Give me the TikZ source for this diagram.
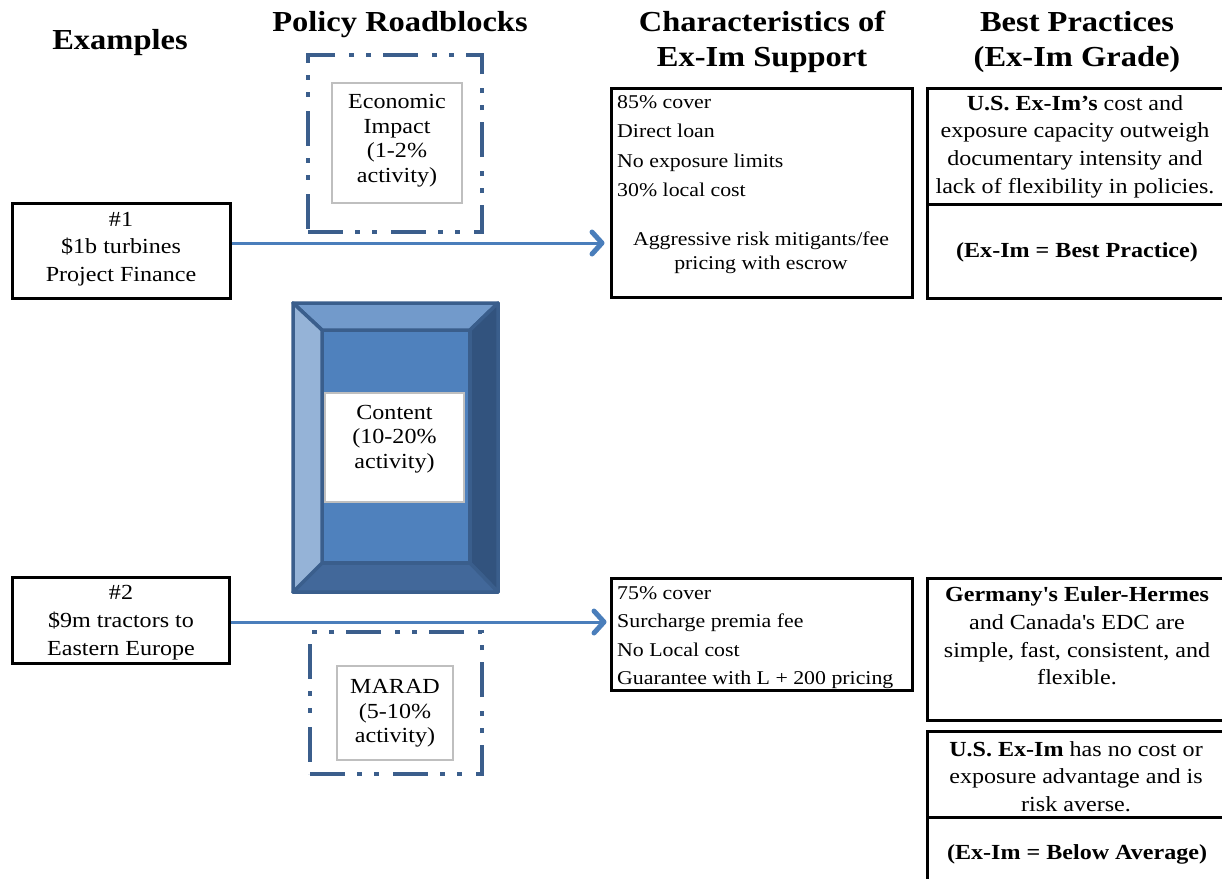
\documentclass[tikz,border=0pt]{standalone}
\usepackage{fontspec}
\setmainfont{Liberation Serif}[FakeStretch=1.12]
\usetikzlibrary{arrows.meta}
\definecolor{arrowblue}{RGB}{74,126,187}
\definecolor{frameblue}{RGB}{59,94,140}
\definecolor{bevtop}{RGB}{114,154,203}
\definecolor{bevleft}{RGB}{149,179,215}
\definecolor{bevright}{RGB}{50,83,126}
\definecolor{bevbottom}{RGB}{66,104,154}
\definecolor{bevmid}{RGB}{79,129,189}
\definecolor{bevline}{RGB}{58,94,140}
\definecolor{innergray}{RGB}{191,191,191}
\begin{document}
\begin{tikzpicture}[x=1pt,y=-1pt,
 title/.style={font=\fontsize{29}{35}\selectfont\bfseries, align=center, inner sep=0},
 body/.style={font=\fontsize{21.5}{27.7}\selectfont, align=center, inner sep=0},
 tight/.style={font=\fontsize{21.5}{24.5}\selectfont, align=center, inner sep=0},
 listtxt/.style={font=\fontsize{19.5}{29.3}\selectfont, align=left, inner sep=0, anchor=west},
 blackbox/.style={draw=black, line width=3pt, inner sep=0},
 dashframe/.style={draw=frameblue, line width=4.5pt, dash pattern=on 35pt off 12pt on 5pt off 12pt on 5pt off 14pt, inner sep=0},
 graybox/.style={draw=innergray, line width=1.5pt, fill=white, inner sep=0},
 arr/.style={draw=arrowblue, line width=3pt, -{Straight Barb[length=10pt,width=22pt,line width=5pt,round]}},
 bevel/.style={draw=bevline, line width=3.5pt, line join=round},
]
\useasboundingbox (0,0) rectangle (1222,878);

% titles
\node[title] (h1) at (120,43) {Examples};
\node[title] (h2) at (400,25) {Policy Roadblocks};
\node[title] (h3) at (762,42) {Characteristics of\\Ex-Im Support};
\node[title] (h4) at (1077,42) {Best Practices\\(Ex-Im Grade)};

% examples
\node[blackbox, minimum width=218pt, minimum height=95pt] (ex1) at (121,250.5) {};
\node[body] (ex1t) at (121,249) {\#1\\\$1b turbines\\Project Finance};
\node[blackbox, minimum width=217pt, minimum height=86pt] (ex2) at (120.5,620) {};
\node[body] (ex2t) at (121,622.5) {\#2\\\$9m tractors to\\Eastern Europe};

% policy roadblocks
\node[dashframe, minimum width=174pt, minimum height=177pt] (econf) at (395,143.5) {};
\node[graybox, minimum width=130pt, minimum height=120pt] (econ) at (397,143) {};
\node[tight] (econt) at (397,140.5) {Economic\\Impact\\(1-2\%\\activity)};

\node[dashframe, minimum width=172pt, minimum height=142pt] (maradf) at (396,703) {};
\node[graybox, minimum width=116pt, minimum height=94pt] (marad) at (395,713) {};
\node[tight] (maradt) at (395,713.5) {MARAD\\(5-10\%\\activity)};

% bevel content
\filldraw[bevel, fill=bevmid] (322,330) rectangle (470,563);
\filldraw[bevel, fill=bevtop] (293,303) -- (498,303) -- (470,330) -- (322,330) -- cycle;
\filldraw[bevel, fill=bevright] (498,303) -- (498,592) -- (470,563) -- (470,330) -- cycle;
\filldraw[bevel, fill=bevbottom] (498,592) -- (293,592) -- (322,563) -- (470,563) -- cycle;
\filldraw[bevel, fill=bevleft] (293,592) -- (293,303) -- (322,330) -- (322,563) -- cycle;
\node[graybox, minimum width=139pt, minimum height=109pt] (content) at (394.5,447.5) {};
\node[tight] (contentt) at (394.5,439) {Content\\(10-20\%\\activity)};

% characteristics
\node[blackbox, minimum width=301pt, minimum height=209pt] (char1) at (761.5,192.5) {};
\node[listtxt] (char1t) at (617,146) {85\% cover\\Direct loan\\No exposure limits\\30\% local cost};
\node[font=\fontsize{19.5}{24}\selectfont, align=center, inner sep=0] (char1u) at (761,252.5) {Aggressive risk mitigants/fee\\pricing with escrow};
\node[blackbox, minimum width=301pt, minimum height=112pt] (char2) at (761.5,634) {};
\node[listtxt, font=\fontsize{19.5}{28.3}\selectfont] (char2t) at (617,637.5) {75\% cover\\Surcharge premia fee\\No Local cost\\Guarantee with L + 200 pricing};

% best practices
\node[blackbox, minimum width=298pt, minimum height=116pt] (bp1a) at (1076,146) {};
\node[body] (bp1at) at (1075,146.5) {\textbf{U.S. Ex-Im’s} cost and\\exposure capacity outweigh\\documentary intensity and\\lack of flexibility in policies.};
\node[blackbox, minimum width=298pt, minimum height=94pt] (bp1b) at (1076,251) {};
\node[body, font=\fontsize{21.5}{27.7}\selectfont\bfseries] (bp1bt) at (1077,252) {(Ex-Im = Best Practice)};

\node[blackbox, minimum width=298pt, minimum height=142pt] (bp2) at (1076,649) {};
\node[body] (bp2t) at (1077,636) {\textbf{Germany\textquotesingle s Euler-Hermes}\\and Canada\textquotesingle s EDC are\\simple, fast, consistent, and\\flexible.};

\node[blackbox, minimum width=298pt, minimum height=86pt] (bp3a) at (1076,774) {};
\node[body] (bp3at) at (1076,776.5) {\textbf{U.S. Ex-Im} has no cost or\\exposure advantage and is\\risk averse.};
\node[blackbox, minimum width=298pt, minimum height=65pt] (bp3b) at (1076,849.5) {};
\node[body, font=\fontsize{21.5}{27.7}\selectfont\bfseries] (bp3bt) at (1077,854) {(Ex-Im = Below Average)};

% arrows
\coordinate (a1) at ([yshift=7.5pt]ex1.east);
\draw[arr, shorten >=5pt] (a1) -- (a1 -| char1.west);
\coordinate (a2) at ([yshift=-2pt]ex2.east);
\draw[arr, shorten >=3pt] (a2) -- (a2 -| char2.west);
\end{tikzpicture}
\end{document}
